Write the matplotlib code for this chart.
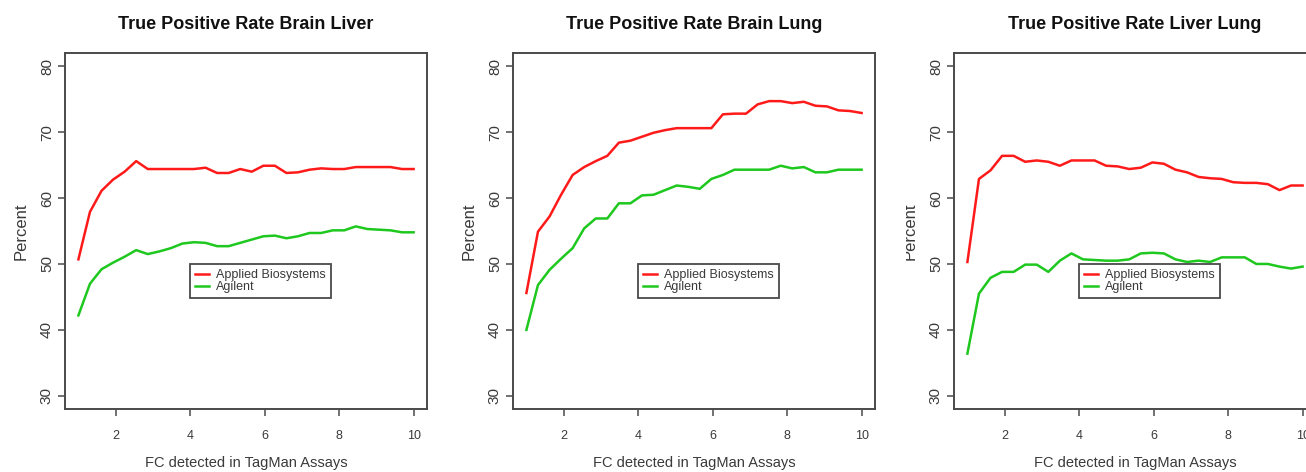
import matplotlib
matplotlib.use("Agg")
import matplotlib.pyplot as plt
import numpy as np
from matplotlib.patches import Rectangle

# ---- data ----
fc_min, fc_max, n_points = 1, 10, 30
fc = np.linspace(fc_min, fc_max, n_points)

titles = ["True Positive Rate Brain Liver",
          "True Positive Rate Brain Lung",
          "True Positive Rate Liver Lung"]
series_names = ["Applied Biosystems", "Agilent"]

abi_brain_liver = [50.7, 57.9, 61.1, 62.8, 64.0, 65.6, 64.4, 64.4, 64.4, 64.4,
                   64.4, 64.6, 63.8, 63.8, 64.4, 64.0, 64.9, 64.9, 63.8, 63.9,
                   64.3, 64.5, 64.4, 64.4, 64.7, 64.7, 64.7, 64.7, 64.4, 64.4]
agl_brain_liver = [42.2, 47.0, 49.2, 50.2, 51.1, 52.1, 51.5, 51.9, 52.4, 53.1,
                   53.3, 53.2, 52.7, 52.7, 53.2, 53.7, 54.2, 54.3, 53.9, 54.2,
                   54.7, 54.7, 55.1, 55.1, 55.7, 55.3, 55.2, 55.1, 54.8, 54.8]

abi_brain_lung = [45.6, 54.9, 57.2, 60.5, 63.5, 64.7, 65.6, 66.4, 68.4, 68.7,
                  69.3, 69.9, 70.3, 70.6, 70.6, 70.6, 70.6, 72.7, 72.8, 72.8,
                  74.2, 74.7, 74.7, 74.4, 74.6, 74.0, 73.9, 73.3, 73.2, 72.9]
agl_brain_lung = [40.0, 46.8, 49.1, 50.8, 52.4, 55.4, 56.9, 56.9, 59.2, 59.2,
                  60.4, 60.5, 61.2, 61.9, 61.7, 61.4, 62.9, 63.5, 64.3, 64.3,
                  64.3, 64.3, 64.9, 64.5, 64.7, 63.9, 63.9, 64.3, 64.3, 64.3]

abi_liver_lung = [50.3, 62.9, 64.2, 66.4, 66.4, 65.5, 65.7, 65.5, 64.9, 65.7,
                  65.7, 65.7, 64.9, 64.8, 64.4, 64.6, 65.4, 65.2, 64.3, 63.9,
                  63.2, 63.0, 62.9, 62.4, 62.3, 62.3, 62.1, 61.2, 61.9, 61.9]
agl_liver_lung = [36.4, 45.5, 47.9, 48.8, 48.8, 49.9, 49.9, 48.8, 50.5, 51.6,
                  50.7, 50.6, 50.5, 50.5, 50.7, 51.6, 51.7, 51.6, 50.7, 50.3,
                  50.5, 50.3, 51.0, 51.0, 51.0, 50.0, 50.0, 49.6, 49.3, 49.6]

abi_series = [abi_brain_liver, abi_brain_lung, abi_liver_lung]
agl_series = [agl_brain_liver, agl_brain_lung, agl_liver_lung]

x_ticks = [2, 4, 6, 8, 10]
y_ticks = [30, 40, 50, 60, 70, 80]
x_label = "FC detected in TagMan Assays"
y_label = "Percent"
legend_anchor = (4, 50)

# ---- figure ----
W, H = 1306, 472
fig = plt.figure(figsize=(W / 100, H / 100), dpi=100)
plt.rcParams['font.family'] = ['Liberation Sans', 'DejaVu Sans']

lefts = [65, 513, 954]
ax_w, ax_top, ax_bot = 362, 53, 409
frame_col = "#4a4a4a"
text_col = "#3a3a3a"

for k in range(3):
    ax = fig.add_axes([lefts[k] / W, (H - ax_bot) / H, ax_w / W, (ax_bot - ax_top) / H])
    ax.plot(fc, abi_series[k], color="#ff1a1a", lw=1.8, label=series_names[0])
    ax.plot(fc, agl_series[k], color="#1ec81e", lw=1.8, label=series_names[1])
    ax.set_xlim(0.64, 10.36)
    ax.set_ylim(28, 82)
    ax.set_xticks(x_ticks)
    ax.set_yticks(y_ticks)
    ax.set_xticklabels([str(t) for t in x_ticks], fontsize=9, color=text_col)
    ax.set_yticklabels([str(t) for t in y_ticks], fontsize=11, color=text_col,
                       rotation=90, va="center")
    ax.tick_params(axis="both", direction="out", length=5, width=1.1, color=frame_col)
    ax.tick_params(axis="x", pad=10)
    ax.tick_params(axis="y", pad=3)
    for s in ax.spines.values():
        s.set_color(frame_col)
        s.set_linewidth(1.4)
    ax.set_title(titles[k], fontsize=13, fontweight="bold", color="#111111", pad=17)
    ax.set_xlabel(x_label, fontsize=10.5, color=text_col, labelpad=10)
    ax.set_ylabel(y_label, fontsize=12, color=text_col, labelpad=8)
    leg = ax.legend(loc="upper left", bbox_to_anchor=legend_anchor,
                    bbox_transform=ax.transData, fontsize=9, frameon=True,
                    fancybox=False, edgecolor=frame_col, handlelength=1.1,
                    handletextpad=0.6, labelspacing=0.02, borderpad=0.4,
                    borderaxespad=0.0, framealpha=1)
    leg.get_frame().set_linewidth(1.3)
    for t in leg.get_texts():
        t.set_color(text_col)

# crop of the third panel's y label (left edge of the third image)
fig.patches.append(Rectangle((880 / W, 0), 26 / W, 1, transform=fig.transFigure,
                             facecolor="white", edgecolor="none", zorder=10))

fig.savefig("out.png", dpi=100)
